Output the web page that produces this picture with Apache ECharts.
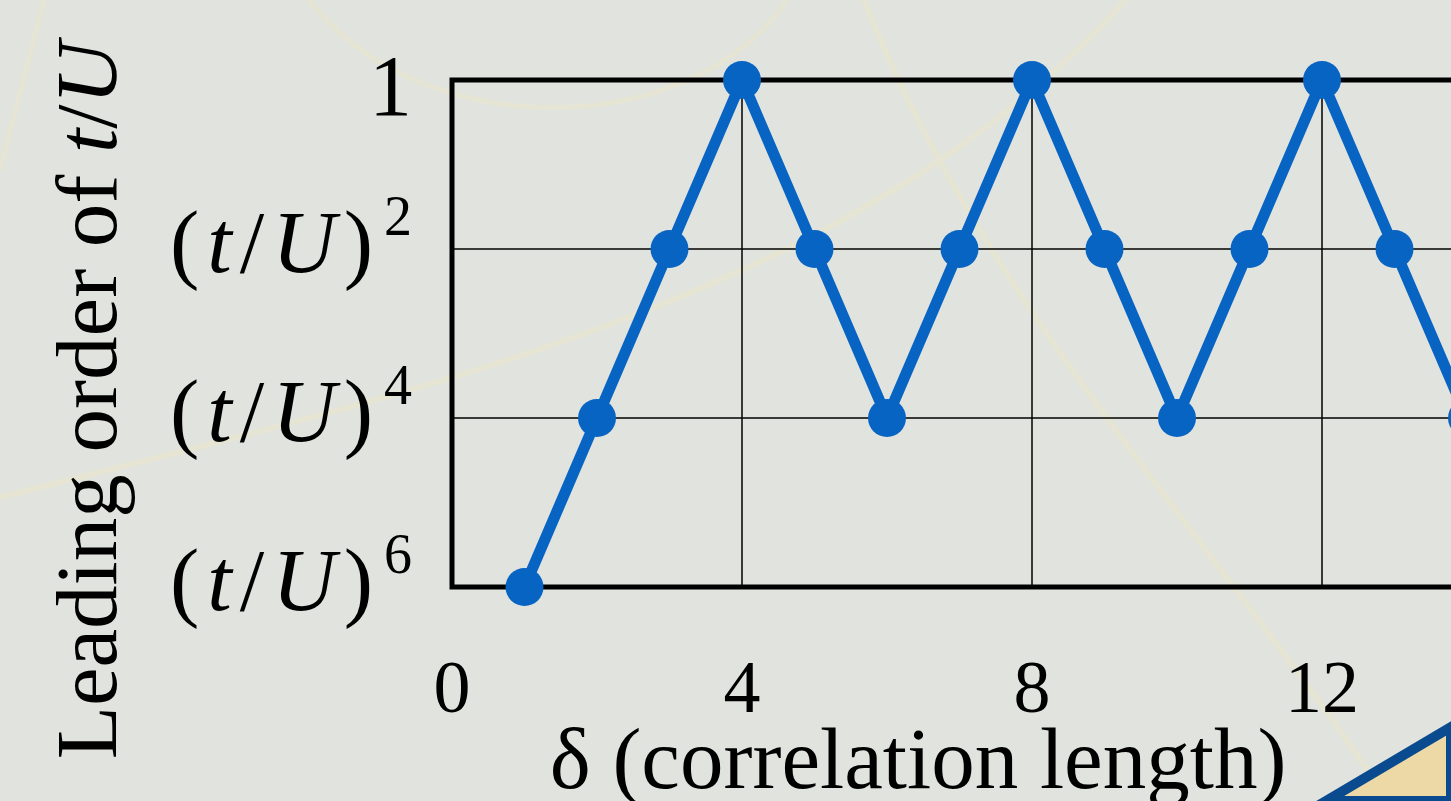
<!DOCTYPE html>
<html>
<head>
<meta charset="utf-8">
<script src="https://cdn.jsdelivr.net/npm/echarts@6/dist/echarts.min.js"></script>
<style>
  html, body { margin: 0; padding: 0; background: #e1e4de; }
  #chart { width: 1451px; height: 801px; }
</style>
</head>
<body>
<div id="chart"></div>
<script>
// correlation length delta
const deltaValues = [1, 2, 3, 4, 5, 6, 7, 8, 9, 10, 11, 12, 13, 14, 15, 16];
// exponent n of the leading order (t/U)^n
const leadingExponent = [6, 4, 2, 0, 2, 4, 2, 0, 2, 4, 2, 0, 2, 4, 2, 0];
// x axis ticks
const xTicks = [0, 4, 8, 12, 16];
// y axis tick exponents (0 means order 1)
const yTickExponents = [0, 2, 4, 6];

const serif = 'Liberation Serif';
const chart = echarts.init(document.getElementById('chart'));

const points = deltaValues.map((d, i) => [d, leadingExponent[i]]);

function orderLabel(v) {
  if (v === 0) return '{one|1}';
  return '{p|(}{i|t}{p|/}{i|U}{p|)}{sup|' + v + '}';
}

const faint = '#e6e4d3';

chart.setOption({
  backgroundColor: '#e1e4de',
  animation: false,
  graphic: [
    { type: 'bezierCurve', z: -10, silent: true,
      shape: { x1: -10, y1: 500, x2: 1130, y2: -5, cpx1: 420, cpy1: 390, cpx2: 860, cpy2: 300 },
      style: { stroke: faint, lineWidth: 6, fill: null } },
    { type: 'bezierCurve', z: -10, silent: true,
      shape: { x1: 862, y1: -5, x2: 1395, y2: 810, cpx1: 980, cpy1: 300, cpx2: 1200, cpy2: 520 },
      style: { stroke: faint, lineWidth: 6, fill: null } },
    { type: 'bezierCurve', z: -10, silent: true,
      shape: { x1: 0, y1: 170, x2: 45, y2: -5, cpx1: 15, cpy1: 110, cpx2: 35, cpy2: 40 },
      style: { stroke: faint, lineWidth: 5, fill: null } },
    { type: 'bezierCurve', z: -10, silent: true,
      shape: { x1: 305, y1: -5, x2: 790, y2: -5, cpx1: 420, cpy1: 150, cpx2: 700, cpy2: 140 },
      style: { stroke: faint, lineWidth: 5, fill: null } },
    { type: 'polygon', z: -5, silent: true,
      shape: { points: [[1326, 801], [1451, 727], [1451, 801]] },
      style: { fill: '#ecd9a6', stroke: '#0a4b8f', lineWidth: 10, lineJoin: 'miter' } }
  ],
  grid: {
    left: 452, top: 80, bottom: 214, right: -161,
    containLabel: false,
    outerBoundsMode: 'none',
    show: true, borderColor: '#000', borderWidth: 5,
    backgroundColor: 'transparent'
  },
  xAxis: {
    type: 'value', min: xTicks[0], max: xTicks[xTicks.length - 1], interval: 4,
    name: 'δ (correlation length)',
    nameLocation: 'middle', nameGap: 135, nameMoveOverlap: false,
    nameTextStyle: { fontFamily: serif, fontSize: 87, color: '#000', padding: [0, 228, 0, 0] },
    axisLine: { show: false },
    axisTick: { show: false },
    axisLabel: { margin: 69, fontFamily: serif, fontSize: 74, color: '#000' },
    splitLine: { show: true, lineStyle: { color: '#000', width: 1.5 } }
  },
  yAxis: {
    type: 'value', inverse: true, min: yTickExponents[0], max: yTickExponents[yTickExponents.length - 1], interval: 2,
    name: 'Leading order of {i|t}/{i|U}',
    nameLocation: 'middle', nameGap: 315, nameRotate: 90,
    nameTextStyle: {
      fontFamily: serif, fontSize: 87, color: '#000', padding: [0, 134, 0, 0],
      rich: { i: { fontFamily: serif, fontStyle: 'italic', fontSize: 87, color: '#000' } }
    },
    axisLine: { show: false },
    axisTick: { show: false },
    axisLabel: {
      margin: 40, color: '#000',
      formatter: orderLabel,
      rich: {
        one: { fontFamily: serif, fontSize: 86, color: '#000', lineHeight: 100, padding: [24, 0, 0, 0] },
        p: { fontFamily: serif, fontSize: 88, color: '#000', lineHeight: 114, padding: [0, 3, 0, 3] },
        i: { fontFamily: serif, fontStyle: 'italic', fontSize: 88, color: '#000', lineHeight: 114, padding: [0, 5, 0, 5] },
        sup: { fontFamily: serif, fontSize: 56, color: '#000', lineHeight: 56, verticalAlign: 'top', padding: [0, 0, 0, 8] }
      }
    },
    splitLine: { show: true, lineStyle: { color: '#000', width: 1.5 } }
  },
  series: [{
    type: 'line',
    data: points,
    clip: false,
    symbol: 'circle',
    symbolSize: 38,
    lineStyle: { color: '#0864c3', width: 11 },
    itemStyle: { color: '#0864c3' },
    z: 5
  }]
});
</script>
</body>
</html>
